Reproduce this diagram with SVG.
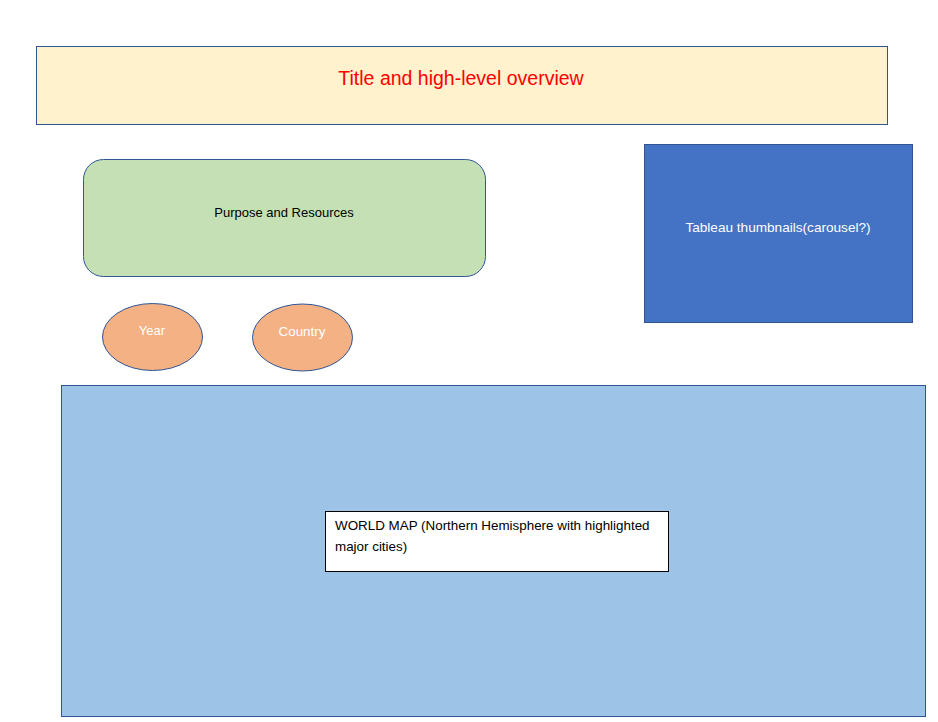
<svg xmlns="http://www.w3.org/2000/svg" width="938" height="722" viewBox="0 0 938 722">
<style>
.t{font-family:"Liberation Sans",Arial,sans-serif}
.s{stroke:#2F5597;stroke-width:1}
</style>
<rect width="938" height="722" fill="#fff"/>
<g id="title">
<rect class="s" x="36.5" y="46.5" width="851" height="78" fill="#FFF2CC"/>
<text class="t" x="461" y="85" font-size="19.5" fill="#FF0000" text-anchor="middle">Title and high-level overview</text>
</g>
<g id="purpose">
<rect class="s" x="83.5" y="159.5" width="402" height="117" rx="20" fill="#C5E0B4"/>
<text class="t" x="284" y="217" font-size="13" fill="#000" text-anchor="middle">Purpose and Resources</text>
</g>
<g id="year">
<ellipse class="s" cx="152.5" cy="337" rx="50" ry="33.5" fill="#F4B183"/>
<text class="t" x="152" y="335" font-size="13" fill="#fff" text-anchor="middle">Year</text>
</g>
<g id="country">
<ellipse class="s" cx="302.5" cy="337.5" rx="50" ry="33.5" fill="#F4B183"/>
<text class="t" x="302" y="336" font-size="13.4" fill="#fff" text-anchor="middle">Country</text>
</g>
<g id="tableau">
<rect class="s" x="644.5" y="144.5" width="268" height="178" fill="#4472C4"/>
<text class="t" x="778" y="232" font-size="13.6" fill="#fff" text-anchor="middle">Tableau thumbnails(carousel?)</text>
</g>
<g id="worldmap">
<rect class="s" x="61.5" y="385.5" width="864" height="331" fill="#9DC3E6"/>
<rect x="325.5" y="511.5" width="343" height="60" fill="#fff" stroke="#000" stroke-width="1"/>
<text class="t" font-size="13.4" fill="#000"><tspan x="335" y="530">WORLD MAP (Northern Hemisphere with highlighted</tspan><tspan x="335" y="551">major cities)</tspan></text>
</g>
<g id="connectors"/>
</svg>
